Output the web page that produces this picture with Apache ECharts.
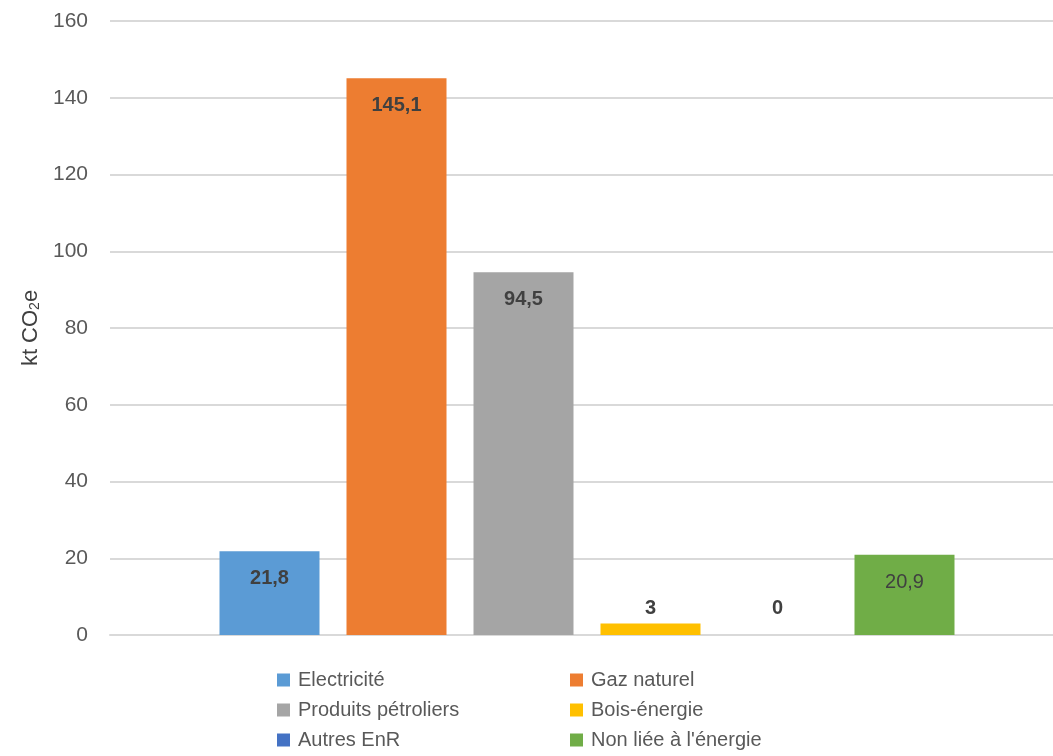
<!DOCTYPE html>
<html>
<head>
<meta charset="utf-8">
<script src="https://cdn.jsdelivr.net/npm/echarts@6/dist/echarts.min.js"></script>
<style>
  html, body { margin: 0; padding: 0; background: #fff; }
  #chart { width: 1053px; height: 756px; }
</style>
</head>
<body>
<div id="chart"></div>
<script>
// données
const categories = ["Total"]
const seriesNames = ["Electricité", "Gaz naturel", "Produits pétroliers", "Bois-énergie", "Autres EnR", "Non liée à l'énergie"]
const values = [21.8, 145.1, 94.5, 3, 0, 20.9]
const colors = ["#5B9BD5", "#ED7D31", "#A5A5A5", "#FFC000", "#4472C4", "#70AD47"]
const yTicks = { min: 0, max: 160, interval: 20 }

const FONT = "'Liberation Sans', Arial, sans-serif"

// position des étiquettes : dans la barre ou au-dessus
const labelPos = ["insideTop", "insideTop", "insideTop", "top", "top", "insideTop"]
const labelDist = [17, 17, 17, 5, 17, 18]
const labelBold = [true, true, true, true, true, false]

const chart = echarts.init(document.getElementById("chart"))

const series = seriesNames.map((name, i) => ({
    name,
    type: "bar",
    data: [values[i]],
    barWidth: 100,
    barGap: "27%",
    itemStyle: { color: colors[i] },
    label: {
        show: true,
        position: labelPos[i],
        distance: labelDist[i],
        fontFamily: FONT,
        fontSize: 20,
        fontWeight: labelBold[i] ? "bold" : "normal",
        color: "#404040",
        formatter: p => String(p.value).replace(".", ","),
    },
}))

const legendText = {
    fontFamily: FONT,
    fontSize: 20,
    color: "#595959",
    lineHeight: 22,
    padding: [0, 0, 0, 3],
}

const legendBase = {
    orient: "vertical",
    top: 669,
    padding: 0,
    icon: "rect",
    itemWidth: 13,
    itemHeight: 13,
    itemGap: 8,
    textStyle: legendText,
}

chart.setOption({
    animation: false,
    grid: {
        left: 110,
        top: 21,
        width: 954,
        bottom: 121,
        outerBoundsMode: "none",
    },
    legend: [
        Object.assign({}, legendBase, {
            left: 277,
            data: [seriesNames[0], seriesNames[2], seriesNames[4]],
        }),
        Object.assign({}, legendBase, {
            left: 570,
            data: [seriesNames[1], seriesNames[3], seriesNames[5]],
        }),
    ],
    xAxis: {
        type: "category",
        data: categories,
        axisLine: { lineStyle: { color: "#D9D9D9", width: 2 } },
        axisTick: { show: false },
        axisLabel: { show: false },
    },
    yAxis: {
        type: "value",
        min: yTicks.min,
        max: yTicks.max,
        interval: yTicks.interval,
        name: "kt CO{sub|2}e",
        nameLocation: "middle",
        nameRotate: 90,
        nameGap: 56,
        nameTextStyle: {
            fontFamily: FONT,
            fontSize: 22,
            color: "#404040",
            rich: {
                sub: { fontFamily: FONT, fontSize: 14, color: "#404040", verticalAlign: "bottom", padding: [9, 0, 0, 0] },
            },
        },
        axisLine: { show: false },
        axisTick: { show: false },
        axisLabel: {
            margin: 22,
            fontFamily: FONT,
            fontSize: 21,
            color: "#595959",
        },
        splitLine: { lineStyle: { color: "#D9D9D9", width: 2 } },
    },
    series,
})
</script>
</body>
</html>
